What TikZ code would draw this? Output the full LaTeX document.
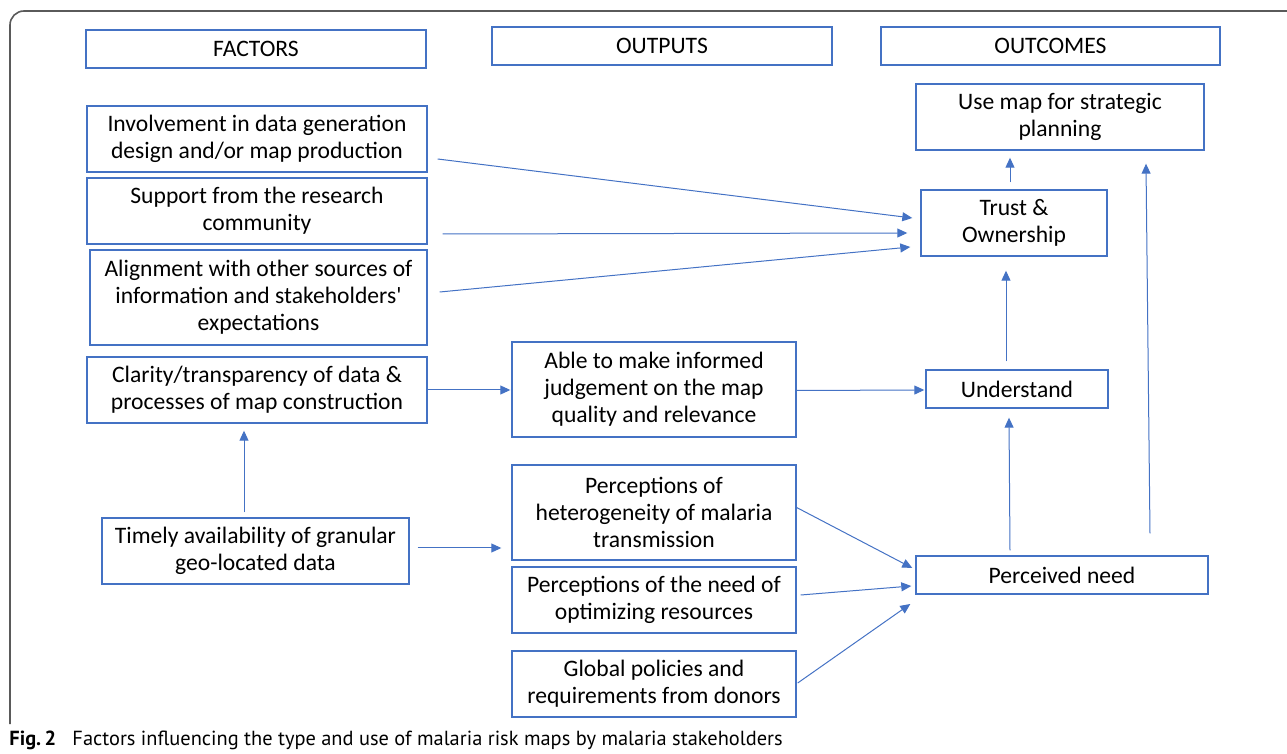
\documentclass[tikz,border=0pt]{standalone}
\usepackage{fontspec}
\setmainfont{Carlito}
\newfontfamily\straightfont{Carlito}[Ligatures=TeXOff]
\newfontfamily\capfont{PT Sans}
\usetikzlibrary{arrows.meta}
\definecolor{boxblue}{HTML}{4472C4}
\definecolor{framegray}{HTML}{5A5A5A}
\newcommand*{\px}{0.5pt}

\begin{document}
\begin{tikzpicture}[x=0.5pt, y=-0.5pt,
    box/.style={draw=boxblue, line width=0.7pt, rectangle, inner sep=0pt, align=center, font=\fontsize{11.8}{13.6}\selectfont},
    arr/.style={-{Triangle[length=5pt,width=4.5pt]}, draw=boxblue, line width=0.5pt}]
    \useasboundingbox (0,0) rectangle (1287,754);
    % outer frame
    \draw[framegray, line width=0.8pt, rounded corners=7pt] (10,724) -- (10,11) -- (1300,11);
    % column headers
    \node[box, minimum width=340*\px, minimum height=38*\px] (factors) at (256,49) {FACTORS};
    \node[box, minimum width=340*\px, minimum height=38*\px] (outputs) at (662,46) {OUTPUTS};
    \node[box, minimum width=339*\px, minimum height=38*\px] (outcomes) at (1050.5,46) {OUTCOMES};
    % factors
    \node[box, minimum width=340*\px, minimum height=66*\px] (involve) at (257,139) {Involvement in data generation\\design and/or map production};
    \node[box, minimum width=340*\px, minimum height=66*\px] (support) at (257,211) {Support from the research\\community};
    \node[box, minimum width=337*\px, minimum height=95*\px] (align) at (258.5,297.5) {Alignment with other sources of\\information and stakeholders{\straightfont'}\\expectations};
    \node[box, minimum width=340*\px, minimum height=66*\px] (clarity) at (257,390) {Clarity/transparency of data \&\\processes of map construction};
    \node[box, minimum width=307*\px, minimum height=66*\px] (timely) at (255.5,551) {Timely availability of granular\\geo-located data};
    % outputs
    \node[box, minimum width=284*\px, minimum height=95*\px] (able) at (654,389.5) {Able to make informed\\judgement on the map\\quality and relevance};
    \node[box, minimum width=284*\px, minimum height=95*\px] (hetero) at (654,512.5) {Perceptions of\\heterogeneity of malaria\\transmission};
    \node[box, minimum width=284*\px, minimum height=66*\px] (optim) at (654,600) {Perceptions of the need of\\optimizing resources};
    \node[box, minimum width=284*\px, minimum height=66*\px] (global) at (654,684) {Global policies and\\requirements from donors};
    % outcomes
    \node[box, minimum width=288*\px, minimum height=66*\px] (usemap) at (1060,117) {Use map for strategic\\planning};
    \node[box, minimum width=186*\px, minimum height=66*\px] (trust) at (1014,223) {Trust \&\\Ownership};
    \node[box, minimum width=182*\px, minimum height=38*\px] (understand) at (1017,389) {Understand};
    \node[box, minimum width=292*\px, minimum height=38*\px] (need) at (1062,575) {Perceived need};
    % links into trust
    \draw[arr] ([shift={(10,20)}]involve.east) -- ([shift={(-8,-5)}]trust.west);
    \draw[arr] ([shift={(15,23)}]support.east) -- ([shift={(-13,10)}]trust.west);
    \draw[arr] ([shift={(12,-5.5)}]align.east) -- ([shift={(-10,24)}]trust.west);
    % middle row
    \draw[arr] (clarity.east) -- ([shift={(-1,0.5)}]able.west);
    \draw[arr] ([shift={(0,1)}]able.east) -- ([shift={(-1,1)}]understand.west);
    % from timely
    \draw[arr] ([shift={(-11.5,-5)}]timely.north) -- ([shift={(-13,7)}]clarity.south);
    \draw[arr] ([shift={(8,-3)}]timely.east) -- ([shift={(-10,35.5)}]hetero.west);
    % into perceived need
    \draw[arr] ([shift={(-1,-5.5)}]hetero.east) -- ([shift={(-3,-7)}]need.west);
    \draw[arr] ([shift={(4,-5)}]optim.east) -- ([shift={(-4,11)}]need.west);
    \draw[arr] ([shift={(1,-1)}]global.east) -- ([shift={(-5,29)}]need.west);
    % upward links
    \draw[arr] ([shift={(-52,-5)}]need.north) -- ([shift={(-8,9)}]understand.south);
    \draw[arr] ([shift={(-11,-8)}]understand.north) -- ([shift={(-8,14)}]trust.south);
    \draw[arr] ([shift={(-4,-7)}]trust.north) -- ([shift={(-50,7)}]usemap.south);
    \draw[arr] ([shift={(88,-22)}]need.north) -- ([shift={(86,13)}]usemap.south);
    % caption
    \node[anchor=base west, inner sep=0pt, font=\capfont\fontsize{10.2}{12}\selectfont] (caption) at (9,745) {\textbf{Fig.\,2}\hspace{0.8em}Factors influencing the type and use of malaria risk maps by malaria stakeholders};
\end{tikzpicture}
\end{document}
